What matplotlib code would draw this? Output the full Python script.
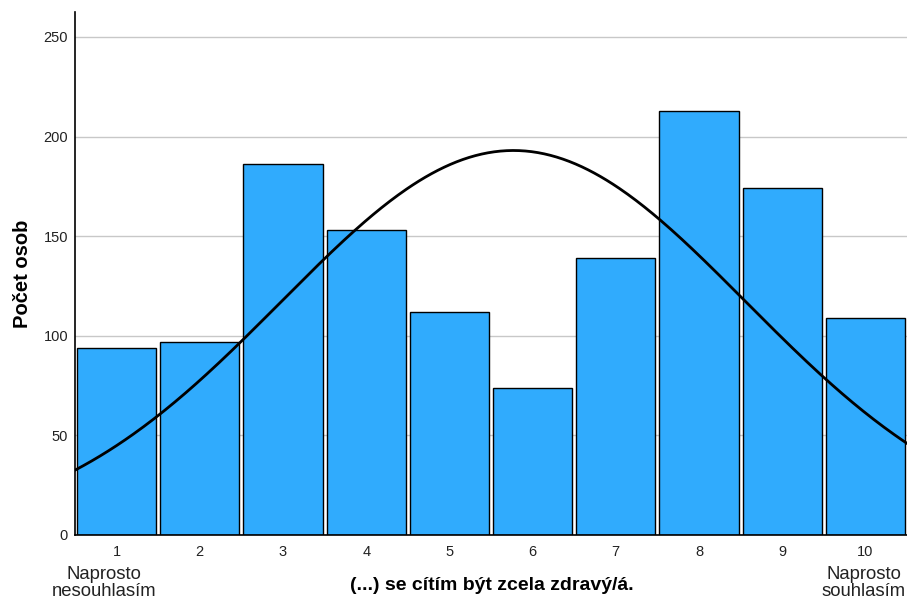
import numpy as np
import matplotlib.pyplot as plt

plt.rcParams['font.family'] = ['Liberation Sans', 'DejaVu Sans']

kategorie = [1, 2, 3, 4, 5, 6, 7, 8, 9, 10]
pocty = [94, 97, 186, 153, 112, 74, 139, 213, 174, 109]

x = np.array(kategorie, dtype=float)
n = np.array(pocty, dtype=float)
N = n.sum()
prumer = (x * n).sum() / N
sd = np.sqrt(((x - prumer) ** 2 * n).sum() / (N - 1))

fig = plt.figure(figsize=(9.07, 5.99), dpi=100)
ax = fig.add_axes([75 / 907, 64 / 599, 832 / 907, 523 / 599])

ax.bar(x, n, width=0.95, color='#30abfd', edgecolor='black', linewidth=1.0, zorder=2)

# normalni krivka
xs = np.linspace(0.5, 10.5, 400)
ys = N / (sd * np.sqrt(2 * np.pi)) * np.exp(-0.5 * ((xs - prumer) / sd) ** 2)
ax.plot(xs, ys, color='black', linewidth=2, zorder=3)

ax.set_xlim(0.5, 10.5)
ax.set_ylim(0, 262.5)
ax.set_yticks([0, 50, 100, 150, 200, 250])
ax.set_xticks(kategorie)
ax.set_xticklabels([str(k) for k in kategorie])
ax.tick_params(axis='both', length=0, labelsize=10.5, colors='#222222')
ax.tick_params(axis='x', pad=7)
ax.tick_params(axis='y', pad=5)
ax.yaxis.grid(True, color='#c8c8c8', linewidth=1, zorder=0)
ax.set_axisbelow(True)

for s in ['top', 'right']:
    ax.spines[s].set_visible(False)
ax.spines['left'].set_linewidth(1.2)
ax.spines['bottom'].set_linewidth(1.2)

ax.set_ylabel('Počet osob', fontsize=14.5, fontweight='bold', labelpad=8)
fig.text(492 / 907, 1 - 586 / 599, '(...) se cítím být zcela zdravý/á.', fontsize=14,
         fontweight='bold', ha='center', va='center')
fig.text(104 / 907, 1 - 583 / 599, 'Naprosto\nnesouhlasím', fontsize=13.3, ha='center',
         va='center', linespacing=0.95, color='#222222')
fig.text(864 / 907, 1 - 583 / 599, 'Naprosto\nsouhlasím', fontsize=13.3, ha='center',
         va='center', linespacing=0.95, color='#222222')

fig.savefig('out.png', dpi=100)
